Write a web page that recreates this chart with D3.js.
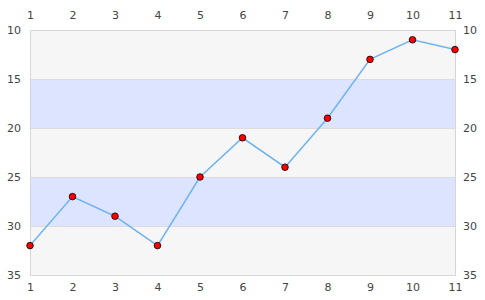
<!DOCTYPE html>
<html><head><meta charset="utf-8">
<script src="https://cdn.jsdelivr.net/npm/d3@7"></script>
<style>body{margin:0;background:#fff}svg{display:block}</style>
</head><body>
<svg id="c" width="485" height="300"></svg>
<script>
const xValues = [1,2,3,4,5,6,7,8,9,10,11];
const yValues = [32,27,29,32,25,21,24,19,13,11,12];
const yTicks = [10,15,20,25,30,35];
const bands = [[10,15,"#f6f6f6"],[15,20,"#dde4ff"],[20,25,"#f6f6f6"],[25,30,"#dde4ff"],[30,35,"#f6f6f6"]];

const svg = d3.select("#c");
const L=30,R=455,T=30,B=275;
const x = d3.scaleLinear().domain([1,11]).range([L,R]);
const y = d3.scaleLinear().domain([10,35]).range([T,B]);

svg.selectAll("rect.band").data(bands).enter().append("rect")
  .attr("x",L).attr("width",R-L)
  .attr("y",d=>y(d[0])).attr("height",d=>y(d[1])-y(d[0]))
  .attr("fill",d=>d[2]);
svg.selectAll("line.grid").data(yTicks.slice(1,-1)).enter().append("line")
  .attr("x1",L).attr("x2",R).attr("y1",d=>y(d)+0.5).attr("y2",d=>y(d)+0.5)
  .attr("stroke","#dcdcdc").attr("stroke-width",1);
svg.append("rect").attr("x",L+0.5).attr("y",T+0.5).attr("width",R-L).attr("height",B-T)
  .attr("fill","none").attr("stroke","#d6d6d6");

const font = "DejaVu Sans, sans-serif";
function styleAxis(g){
  g.select(".domain").remove();
  g.selectAll(".tick line").remove();
  g.selectAll("text").attr("fill","#444").style("font-family",font).style("font-size","11px");
}
svg.append("g").attr("transform",`translate(0,${T})`)
  .call(d3.axisTop(x).tickValues(xValues).tickSize(0).tickPadding(11).tickFormat(d3.format("d"))).call(styleAxis);
svg.append("g").attr("transform",`translate(0,${B})`)
  .call(d3.axisBottom(x).tickValues(xValues).tickSize(0).tickPadding(8).tickFormat(d3.format("d"))).call(styleAxis);
svg.append("g").attr("transform",`translate(${L},0)`)
  .call(d3.axisLeft(y).tickValues(yTicks).tickSize(0).tickPadding(9)).call(styleAxis);
svg.append("g").attr("transform",`translate(${R},0)`)
  .call(d3.axisRight(y).tickValues(yTicks).tickSize(0).tickPadding(8)).call(styleAxis);

const data = xValues.map((v,i)=>({x:v,y:yValues[i]}));
svg.append("path").datum(data)
  .attr("fill","none").attr("stroke","#6eb3f2").attr("stroke-width",1.5)
  .attr("d",d3.line().x(d=>x(d.x)).y(d=>y(d.y)));
svg.selectAll("circle").data(data).enter().append("circle")
  .attr("cx",d=>x(d.x)).attr("cy",d=>y(d.y)).attr("r",3.3)
  .attr("fill","#ff0000").attr("stroke","#000").attr("stroke-width",0.8);
</script>
</body></html>
